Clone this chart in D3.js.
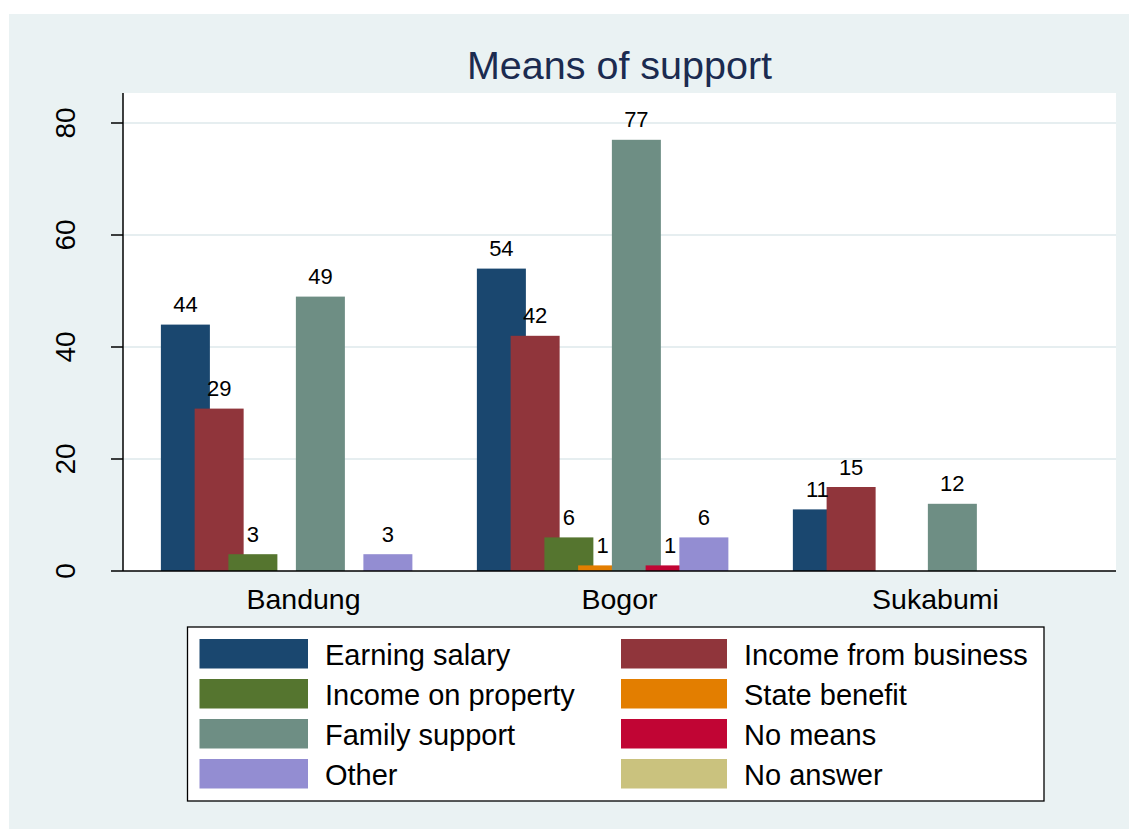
<!DOCTYPE html>
<html>
<head>
<meta charset="utf-8">
<script src="https://cdn.jsdelivr.net/npm/d3@7/dist/d3.min.js"></script>
<style>
  html, body { margin: 0; padding: 0; background: #ffffff; }
  svg { display: block; font-family: "Liberation Sans", Arial, Helvetica, sans-serif; }
</style>
</head>
<body>
<svg id="chart" width="1129" height="829"></svg>
<script>
// ---- data ----
const categories = ["Bandung", "Bogor", "Sukabumi"];
const seriesNames = ["Earning salary", "Income from business", "Income on property", "State benefit",
                     "Family support", "No means", "Other", "No answer"];
const earningSalary   = [44, 54, 11];
const incomeBusiness  = [29, 42, 15];
const incomeProperty  = [3, 6, 0];
const stateBenefit    = [0, 1, 0];
const familySupport   = [49, 77, 12];
const noMeans         = [0, 1, 0];
const other           = [3, 6, 0];
const noAnswer        = [0, 0, 0];
const yTicks = [0, 20, 40, 60, 80];
const title = "Means of support";

const seriesValues = [earningSalary, incomeBusiness, incomeProperty, stateBenefit,
                      familySupport, noMeans, other, noAnswer];
const colors = ["#1a476f", "#90353b", "#55752f", "#e37e00", "#6e8e84", "#c10534", "#938dd2", "#cac27e"];

// ---- layout ----
const svg = d3.select("#chart");
const W = 1129, H = 829;
const plot = { left: 123, right: 1116, top: 93, bottom: 571 };

svg.append("rect").attr("x", 9).attr("y", 14).attr("width", W - 9).attr("height", H - 14)
  .attr("fill", "#eaf2f3");
svg.append("rect").attr("x", plot.left).attr("y", plot.top)
  .attr("width", plot.right - plot.left).attr("height", plot.bottom - plot.top)
  .attr("fill", "#ffffff");

const y = d3.scaleLinear().domain([0, 80]).range([plot.bottom, 123]);

const x0 = d3.scaleBand().domain(categories)
  .range([plot.left, plot.right]).paddingInner(0.0973).paddingOuter(0.1199);
const barW = 49;
const x1 = d3.scalePoint().domain(seriesNames).range([0, x0.bandwidth() - barW]);

// gridlines
svg.append("g").selectAll("line").data(yTicks.filter(d => d > 0)).join("line")
  .attr("x1", plot.left).attr("x2", plot.right)
  .attr("y1", d => y(d)).attr("y2", d => y(d))
  .attr("stroke", "#e6eef0").attr("stroke-width", 2);

// bars
const rows = [];
seriesNames.forEach((s, si) => {
  categories.forEach((c, ci) => {
    rows.push({ s, si, c, v: seriesValues[si][ci] });
  });
});
svg.append("g").selectAll("rect").data(rows.filter(d => d.v > 0)).join("rect")
  .attr("x", d => x0(d.c) + x1(d.s))
  .attr("y", d => y(d.v))
  .attr("width", barW)
  .attr("height", d => y(0) - y(d.v))
  .attr("fill", d => colors[d.si]);

// value labels
svg.append("g").selectAll("text").data(rows.filter(d => d.v > 0)).join("text")
  .attr("x", d => x0(d.c) + x1(d.s) + barW / 2)
  .attr("y", d => y(d.v) - 12.5)
  .attr("text-anchor", "middle")
  .attr("font-size", 22)
  .attr("fill", "#000")
  .text(d => d.v);

// y axis
const yAxis = svg.append("g");
yAxis.append("line").attr("x1", plot.left).attr("x2", plot.left)
  .attr("y1", plot.top).attr("y2", plot.bottom).attr("stroke", "#000").attr("stroke-width", 1.5);
yAxis.selectAll("line.tick").data(yTicks).join("line").attr("class", "tick")
  .attr("x1", plot.left - 12).attr("x2", plot.left)
  .attr("y1", d => y(d)).attr("y2", d => y(d))
  .attr("stroke", "#000").attr("stroke-width", 1.5);
yAxis.selectAll("text").data(yTicks).join("text")
  .attr("transform", d => `translate(75,${y(d)}) rotate(-90)`)
  .attr("text-anchor", "middle")
  .attr("font-size", 28)
  .attr("fill", "#000")
  .text(d => d);

// x axis
svg.append("line").attr("x1", plot.left).attr("x2", plot.right)
  .attr("y1", plot.bottom).attr("y2", plot.bottom).attr("stroke", "#000").attr("stroke-width", 1.5);
svg.append("g").selectAll("text").data(categories).join("text")
  .attr("x", d => x0(d) + x0.bandwidth() / 2)
  .attr("y", 609)
  .attr("text-anchor", "middle")
  .attr("font-size", 28.5)
  .attr("fill", "#000")
  .text(d => d);

// title
svg.append("text").attr("x", (plot.left + plot.right) / 2).attr("y", 79)
  .attr("text-anchor", "middle").attr("font-size", 39.5).attr("fill", "#1b2b50")
  .text(title);

// legend
const lg = svg.append("g");
lg.append("rect").attr("x", 187.5).attr("y", 627).attr("width", 856.5).attr("height", 174)
  .attr("fill", "#fff").attr("stroke", "#000").attr("stroke-width", 1.3);
const colX = [199.5, 621];
const textX = [325, 744];
const items = lg.selectAll("g.item").data(seriesNames).join("g").attr("class", "item")
  .attr("transform", (d, i) => `translate(0,${639 + Math.floor(i / 2) * 40})`);
items.append("rect")
  .attr("x", (d, i) => colX[i % 2]).attr("y", 0)
  .attr("width", (d, i) => i % 2 ? 106 : 108.5).attr("height", 29.5)
  .attr("fill", (d, i) => colors[i]);
items.append("text")
  .attr("x", (d, i) => textX[i % 2]).attr("y", 26)
  .attr("font-size", 29).attr("fill", "#000")
  .text(d => d);
</script>
</body>
</html>
